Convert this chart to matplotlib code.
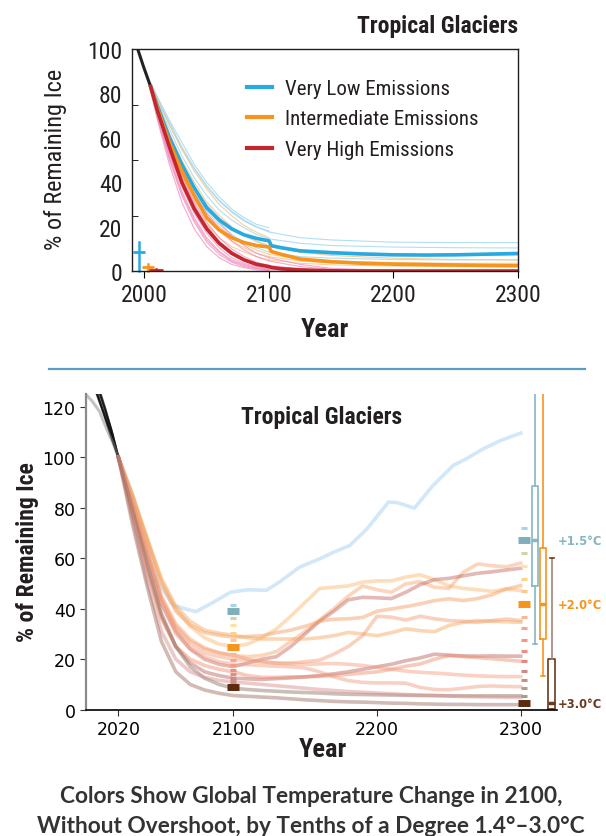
import matplotlib
matplotlib.use("Agg")
import matplotlib.pyplot as plt
from matplotlib.lines import Line2D

# condensed face for the headline-style text, first one found wins
NARROW = ['Roboto Condensed', 'DejaVu Sans Condensed', 'Liberation Sans Narrow',
          'Roboto', 'DejaVu Sans']
CAPTION = ['Lato', 'DejaVu Sans']

# ---------------- top panel data ----------------
hist_years_top = [1994, 1999, 2005]
hist_top = [101, 92.5, 83]

years_21c = [2005, 2010, 2020, 2030, 2040, 2050, 2060, 2070, 2080, 2090, 2100]
years_ext = [2100, 2125, 2150, 2200, 2250, 2300]

thin_blue = [
    [84, 78, 66, 55, 46, 38, 31.5, 26.5, 22.5, 19.8, 17.6],
    [84, 77, 64, 52, 42, 34, 27.5, 23, 19.5, 16.5, 14.5],
    [83, 75, 61, 48, 38, 30, 24, 19.5, 16, 13.2, 11],
    [83, 74, 58, 45, 35, 27, 21, 16.5, 13, 10.5, 8.5],
    [85, 79, 68, 58, 48, 40, 33.5, 28, 24, 21, 19.5],
    [84, 78, 67, 56, 46.5, 38.5, 32, 27, 23, 20, 18],
]
thin_blue_ext = [
    [17.6, 15, 14, 13, 12.8, 12.8],
    [14.5, 12.5, 11.5, 10.8, 10.5, 10.4],
    [11, 8.5, 7.5, 7, 7, 7.3],
    [8.5, 6.5, 5.8, 5.2, 5, 5],
]
thin_orange = [
    [84, 78, 66, 55, 45, 37, 30, 25, 20.5, 17.5, 15],
    [83, 76, 62, 50, 40, 31, 25, 20, 16, 13.5, 11.5],
    [83, 74, 58, 45, 34, 26, 20, 15.5, 12, 9.5, 7.5],
    [82, 72, 54, 40, 29, 21, 15, 11, 8.5, 6.5, 5],
    [82, 73, 56, 43, 32, 24, 18, 13.5, 10.5, 8, 6.5],
]
thin_orange_ext = [
    [11.5, 8.5, 7, 5.8, 5.2, 5],
    [7.5, 5.5, 4.5, 3.8, 3.5, 3.5],
    [5, 3.5, 2.8, 2.2, 2, 2],
    [6.5, 4.5, 3.6, 3, 2.8, 2.7],
]
thin_pink = [
    [82, 70, 50, 34, 22, 13, 7.5, 4, 2, 1, 0.5],
    [82, 72, 53, 38, 26, 17, 10.5, 6, 3.5, 2, 1],
    [83, 74, 57, 43, 31, 22, 15, 10, 6.5, 4, 2.5],
    [83, 75, 59, 46, 35, 26, 19, 13.5, 9.5, 6.5, 4.5],
    [81, 69, 48, 31, 19, 11, 6, 3, 1.5, 0.5, 0.2],
    [82, 71, 52, 36, 24, 15, 9, 5, 3, 1.5, 0.8],
    [83, 73, 55, 40, 28, 19, 12.5, 8, 5, 3, 1.8],
    [84, 76, 62, 49, 38, 29, 22, 16, 11.5, 8, 6],
    [82, 70, 51, 35, 23, 14, 8.5, 4.5, 2.5, 1.2, 0.5],
    [83, 74, 56, 42, 30, 20.5, 13.5, 9, 5.5, 3.5, 2],
]
thin_pink_ext = [
    [0.5, 0.2, 0, 0, 0, 0],
    [1, 0.4, 0.1, 0, 0, 0],
    [2.5, 1, 0.3, 0, 0, 0],
    [4.5, 2, 0.8, 0.2, 0, 0],
    [2, 0.8, 0.2, 0, 0, 0],
    [6, 3, 1.2, 0.3, 0.1, 0],
]

years_mean = [2005, 2010, 2020, 2030, 2040, 2050, 2060, 2070, 2080, 2090, 2100,
              2102, 2110, 2125, 2150, 2175, 2200, 2225, 2250, 2275, 2300]
mean_very_low = [83, 75, 60, 48, 37.5, 28.5, 23, 19, 16.3, 14.7, 13.6,
                 11.4, 10.5, 9.1, 8.3, 7.7, 7.3, 7.2, 7.3, 7.6, 7.9]
mean_intermediate = [83, 74, 58, 45, 34, 24, 18.5, 15, 12.8, 11.5, 10.8,
                     8.8, 7.5, 5.4, 4.2, 3.5, 3.1, 2.9, 2.7, 2.5, 2.4]
mean_very_high = [83, 73, 56, 40, 28, 19, 12.5, 8, 5, 3, 2,
                  1.6, 1, 0.5, 0.1, 0, 0, 0, 0, 0, 0]
scenario_names = ['Very Low Emissions', 'Intermediate Emissions', 'Very High Emissions']

# ranges of 2300 values shown at the left edge
range_x = [1996, 2003, 2009]
range_lo = [0, 0, 0.4]
range_hi = [13, 3.2, 0.8]
range_med = [8.4, 1.7, 0.6]

# ---------------- bottom panel data ----------------
hist_lines = [
    ([1998, 2005, 2010, 2015, 2020], [131, 125, 117, 108, 100]),
    ([2001, 2006, 2012, 2016, 2020], [132, 124, 114, 107, 100]),
    ([2004, 2010, 2015, 2020], [130, 120, 111, 100]),
    ([2006, 2011, 2016, 2020], [128, 119, 109, 100]),
]
hist_gray_years = [1998, 2002, 2007, 2012, 2016, 2020]
hist_gray = [124.5, 122, 118, 111, 106, 100]

years_b = list(range(2020, 2301, 10))
sims = {
    'a': [100, 84, 68, 51, 40, 33, 28.5, 26, 25, 26, 28.5, 32, 37, 42.5, 48,
          48.5, 49, 50.5, 51, 51, 52.5, 53.4, 51.5, 49, 48, 47.5, 46.8, 47.8, 47.2],
    'b': [100, 82, 63, 45, 34, 28, 24.5, 22.5, 21.5, 21, 21.5, 23, 27, 31, 35.5,
          40, 45, 49, 47.5, 46.5, 49.8, 50.7, 48.5, 48, 54.4, 57.7, 57, 56.6, 58],
    'c': [100, 80, 61, 42, 31, 24, 20, 18, 17, 18.5, 20, 21, 25, 30, 35,
          39, 43.5, 44.5, 44.3, 44, 46.5, 49.5, 51.5, 52, 53, 54, 54.6, 55.3, 56],
    'd': [100, 84, 67, 50, 39, 33.5, 30.5, 29.5, 28.7, 29, 29.3, 30.5, 31.5, 33, 35,
          35.8, 36, 36.5, 39, 39.9, 40.8, 41.9, 43.2, 43.9, 43.2, 44, 45.5, 47.8, 49.1],
    'e': [100, 85, 68, 52, 41, 35, 31.5, 30.3, 29.5, 28.5, 28, 28, 28, 28, 28.5,
          29.3, 30.6, 30, 29.3, 30.5, 32, 31.3, 30.9, 33.3, 34.6, 35.3, 35, 34.8, 34.6],
    'f': [100, 81, 62, 44, 33, 27, 24, 22.5, 21.5, 20, 19, 18.4, 18.5, 19, 19.6,
          22, 25, 29.3, 37, 36.6, 35.5, 37, 36, 35.3, 35, 34.6, 35.3, 35.9, 35.3],
    'g': [100, 78, 56, 37, 25, 18.5, 15, 13.5, 12.5, 12.2, 12, 12.3, 12.6, 13, 13.5,
          14.2, 15, 16, 17, 18, 19.4, 20.5, 22, 21.6, 21.3, 21.2, 21.3, 21.2, 21.2],
    'h': [100, 77, 55, 36, 25, 20, 17.5, 16, 15, 13.5, 12.8, 12.8, 13, 13, 13.2,
          13.5, 14, 14.5, 15, 16, 17.2, 18.1, 20, 21.4, 21, 20.6, 20.2, 19.7, 19.2],
    'i': [100, 82, 63, 44, 32, 25.5, 22.5, 21, 20, 19.5, 19, 18.5, 18.2, 18, 18.1,
          18.3, 18, 17.5, 16.8, 16, 15.3, 14.8, 14.5, 14.1, 13.7, 13.4, 13.2, 13.1, 13.1],
    'j': [100, 81, 61, 42, 30, 24, 21, 19, 18, 17.8, 17.5, 17.2, 17, 16.5, 15,
          13, 11.5, 10.8, 10.6, 10.6, 10.5, 8.8, 8, 7.9, 8.5, 9.2, 9.4, 9.2, 9.1],
    'k': [100, 79, 58, 38, 25, 17, 12.5, 10, 8.5, 8, 7.6, 7.3, 7, 6.8, 6.6,
          6.3, 6.1, 6, 5.9, 5.8, 5.7, 5.6, 5.6, 5.5, 5.5, 5.5, 5.5, 5.5, 5.5],
    'l': [100, 75, 51, 31, 20, 15, 12.8, 11.6, 11, 10.5, 10, 9.5, 9, 8.5, 8,
          7.6, 7.2, 6.9, 6.6, 6.3, 6, 5.8, 5.6, 5.4, 5.2, 5.1, 5, 4.9, 4.9],
    'm': [100, 73, 49, 27, 15, 10, 7.8, 6.5, 5.6, 5.3, 5, 4.7, 4.3, 3.9, 3.6,
          3.3, 3.1, 3, 2.8, 2.6, 2.5, 2.3, 2.2, 2.1, 2.1, 2, 2, 2, 2],
}
sim_colors = {
    'a': '#fbb66a', 'b': '#f8a46c', 'c': '#c4625a', 'd': '#f59a60', 'e': '#f6a65a',
    'f': '#f39a70', 'g': '#b85e58', 'h': '#ee8a6a', 'i': '#f49a78', 'j': '#f09a80',
    'k': '#8a7060', 'l': '#d88a88', 'm': '#9a6a5a',
}
blue_years = [2020, 2030, 2040, 2048, 2058, 2066, 2074, 2086, 2098, 2110, 2123, 2132,
              2146, 2160, 2170, 2181, 2193, 2208, 2214, 2226, 2239, 2253, 2262, 2274,
              2286, 2300]
blue_sim = [100, 85, 66, 50, 41.5, 40, 38.8, 42.5, 46.5, 47.5, 47.3, 50.5,
            56.4, 59.7, 62.4, 65, 71.6, 82.2, 82, 79.8, 88.8, 96.7, 99.3, 103.3,
            106.6, 109.5]

temp_colors = ['#a9d2ec', '#7fafba', '#d3d3a6', '#fde39c', '#fdd38a', '#fbc98e',
               '#f7941d', '#f9b79a', '#f6a592', '#f19a88', '#ea9080', '#e08a80',
               '#cf8a84', '#c49088', '#b49a90', '#a89a90', '#5c2a0e']
median_2100 = [41.5, 39.0, 36.3, 33.5, 30.4, 27.6, 24.7, 22.1, 19.8, 17.7, 15.9,
               14.1, 12.4, 11.2, 10.2, 9.4, 8.8]
median_2300 = [71.9, 67.0, 61.9, 56.8, 51.8, 46.9, 41.7, 36.8, 32.2, 27.7, 23.4,
               19.1, 15.2, 11.7, 8.4, 5.5, 2.6]
highlight = [1, 6, 16]

box_labels = ['+1.5°C', '+2.0°C', '+3.0°C']
box_colors = ['#86b6c2', '#f7941d', '#6b3a1e']
box_whislo = [26, 13.2, 0]
box_q1 = [49.1, 28, 0.3]
box_med = [67, 41.7, 2.6]
box_q3 = [88.7, 64, 20]
box_whishi = [160, 160, 60]

# ---------------- figure ----------------
fig = plt.figure(figsize=(6.06, 8.37), dpi=100)

ax1 = fig.add_axes([0.2178, 0.675, 0.637, 0.2652])
for row in thin_blue:
    ax1.plot(years_21c, row, color='#9fd6f0', lw=0.8, alpha=0.8)
for row in thin_blue_ext:
    ax1.plot(years_ext, row, color='#9fd6f0', lw=0.8, alpha=0.8)
for row in thin_orange:
    ax1.plot(years_21c, row, color='#fbc27e', lw=0.8, alpha=0.8)
for row in thin_orange_ext:
    ax1.plot(years_ext, row, color='#fbc27e', lw=0.8, alpha=0.8)
for row in thin_pink:
    ax1.plot(years_21c, row, color='#f08cbc', lw=0.8, alpha=0.75)
for row in thin_pink_ext:
    ax1.plot(years_ext, row, color='#f08cbc', lw=0.8, alpha=0.75)

ax1.plot(hist_years_top, hist_top, color='#222222', lw=2.2)
h1, = ax1.plot(years_mean, mean_very_low, color='#27aae1', lw=2.6)
h2, = ax1.plot(years_mean, mean_intermediate, color='#f7941d', lw=2.6)
h3, = ax1.plot(years_mean, mean_very_high, color='#c1272d', lw=2.6)

rng_colors = ['#27aae1', '#f7941d', '#c1272d']
for i in range(3):
    ax1.plot([range_x[i], range_x[i]], [range_lo[i], range_hi[i]],
             color=rng_colors[i], lw=1.8, clip_on=False)
    ax1.plot(range_x[i], range_med[i], marker='_', ms=8 if i < 2 else 10,
             mew=2, color=rng_colors[i], clip_on=False)

ax1.set_xlim(1990, 2300)
ax1.set_ylim(0, 100)
ax1.set_xticks([2000, 2100, 2200, 2300])
ax1.set_yticks([0, 20, 40, 60, 80, 100])
ax1.set_yticks([25, 50, 75], minor=True)
ax1.tick_params(axis='y', which='major', length=0, pad=7)
ax1.tick_params(axis='y', which='minor', direction='in', length=4)
ax1.tick_params(axis='x', direction='out', length=5)
for lab in ax1.get_xticklabels() + ax1.get_yticklabels():
    lab.set_family(NARROW)
    lab.set_stretch('condensed')
    lab.set_fontsize(17)
    lab.set_color('#231f20')
for sp in ax1.spines.values():
    sp.set_linewidth(1.0)
    sp.set_color('#231f20')

leg = ax1.legend([h1, h2, h3], scenario_names, loc='upper left',
                 bbox_to_anchor=(0.25, 0.95), frameon=False, handlelength=1.2,
                 handletextpad=0.6, labelspacing=0.55,
                 prop={'family': NARROW, 'size': 15, 'stretch': 'condensed'})
for t in leg.get_texts():
    t.set_color('#231f20')
for ln in leg.get_lines():
    ln.set_linewidth(3)

fig.text(0.855, 0.968, 'Tropical Glaciers', ha='right', va='center',
         family=NARROW, stretch='condensed', fontsize=17, fontweight='bold',
         color='#231f20')
fig.text(0.091, 0.809, '% of Remaining Ice', rotation=90, ha='center', va='center',
         family=NARROW, stretch='condensed', fontsize=17.5, color='#231f20')
fig.text(0.536, 0.606, 'Year', ha='center', va='center', family=NARROW,
         stretch='condensed', fontsize=19, fontweight='bold', color='#231f20')

fig.add_artist(Line2D([0.081, 0.965], [0.558, 0.558], color='#5b9bc6', lw=1.6))

# ---------------- bottom panel ----------------
ax2 = fig.add_axes([0.1419, 0.1509, 0.7767, 0.3772])
for yrs, vals in hist_lines:
    ax2.plot(yrs, vals, color='black', lw=1.6, alpha=0.7)
ax2.plot(hist_gray_years, hist_gray, color='#888888', lw=2.2, alpha=0.5)

ax2.plot(blue_years, blue_sim, color='#9ccbef', lw=2.6, alpha=0.45,
         solid_joinstyle='round')
for key, vals in sims.items():
    ax2.plot(years_b, vals, color=sim_colors[key], lw=2.6, alpha=0.45,
             solid_joinstyle='round')

for i, c in enumerate(temp_colors):
    big = i in highlight
    ax2.plot(2100, median_2100[i], marker='_', ms=8 if big else 5,
             mew=5 if big else 2.2, color=c, zorder=5)
    ax2.plot(2302, median_2300[i], marker='_', ms=8 if big else 5,
             mew=5 if big else 2.2, color=c, zorder=5, clip_on=False)

stats = []
for i in range(3):
    stats.append({'whislo': box_whislo[i], 'q1': box_q1[i], 'med': box_med[i],
                  'q3': box_q3[i], 'whishi': box_whishi[i], 'fliers': []})
box_pos = [2310, 2315.4, 2321.5]
bp = ax2.bxp(stats, positions=box_pos, widths=4.4, capwidths=2.8,
             showfliers=False, manage_ticks=False, patch_artist=False)
for i in range(3):
    c = box_colors[i]
    bp['boxes'][i].set_color(c)
    bp['boxes'][i].set_linewidth(1.2)
    bp['medians'][i].set_color(c)
    bp['medians'][i].set_linewidth(2.5)
    for w in bp['whiskers'][2 * i:2 * i + 2]:
        w.set_color(c)
        w.set_linewidth(1.2)
    for cp in bp['caps'][2 * i:2 * i + 2]:
        cp.set_color(c)
        cp.set_linewidth(1.2)
    ax2.text(2325.8, box_med[i], box_labels[i], color=c, fontsize=8.3,
             fontweight='bold', ha='left', va='center', clip_on=False)
bp['whiskers'][5].set_color('#a58474')
bp['caps'][5].set_color('#6b3a1e')

ax2.set_xlim(1997.5, 2325)
ax2.set_ylim(0, 125)
ax2.set_xticks([2020, 2100, 2200, 2300])
ax2.set_yticks([0, 20, 40, 60, 80, 100, 120])
ax2.tick_params(labelsize=12.5, length=4, color='#333333')
ax2.spines['top'].set_visible(False)
ax2.spines['right'].set_visible(False)
ax2.spines['left'].set_color('#8a8a8a')
ax2.spines['left'].set_linewidth(1.6)
ax2.spines['bottom'].set_linewidth(1.2)

fig.text(0.531, 0.5006, 'Tropical Glaciers', ha='center', va='center',
         family=NARROW, stretch='condensed', fontsize=17, fontweight='bold',
         color='#231f20')
fig.text(0.046, 0.3405, '% of Remaining Ice', rotation=90, ha='center', va='center',
         family=NARROW, stretch='condensed', fontsize=17, fontweight='bold',
         color='#231f20')
fig.text(0.533, 0.104, 'Year', ha='center', va='center', family=NARROW,
         stretch='condensed', fontsize=19, fontweight='bold', color='#231f20')

fig.text(0.513, 0.0478, 'Colors Show Global Temperature Change in 2100,',
         ha='center', va='center', family=CAPTION, fontsize=16.3,
         fontweight='bold', color='#333333')
fig.text(0.513, 0.0131, 'Without Overshoot, by Tenths of a Degree 1.4°–3.0°C',
         ha='center', va='center', family=CAPTION, fontsize=16.3,
         fontweight='bold', color='#333333')

fig.savefig('out.png', dpi=100)
